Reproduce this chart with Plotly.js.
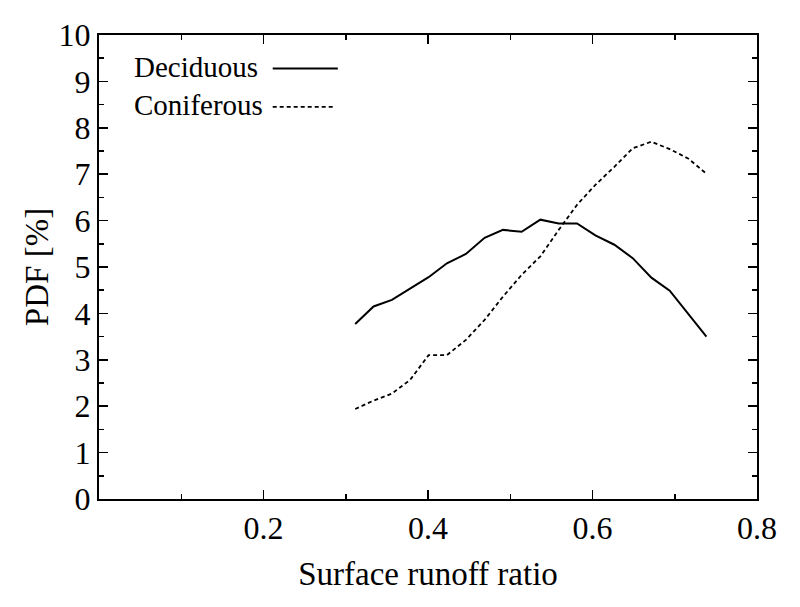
<!DOCTYPE html>
<html>
<head>
<meta charset="utf-8">
<script src="https://cdn.plot.ly/plotly-3.0.1.min.js"></script>
<style>html,body{margin:0;padding:0;background:#fff;}#chart{width:800px;height:607px;}</style>
</head>
<body>
<div id="chart"></div>
<script>
const runoffRatio = [0.3115, 0.3338, 0.3561, 0.3784, 0.4007, 0.4230, 0.4461, 0.4688, 0.4911, 0.5138,
                     0.5366, 0.5589, 0.5812, 0.6035, 0.6266, 0.6489, 0.6716, 0.6939, 0.7162, 0.7385];
const deciduousPdf = [3.77, 4.15, 4.29, 4.53, 4.78, 5.08, 5.28, 5.63, 5.80, 5.76,
                      6.02, 5.94, 5.94, 5.68, 5.48, 5.19, 4.77, 4.49, 3.99, 3.50];
const coniferousPdf = [1.94, 2.12, 2.27, 2.57, 3.10, 3.10, 3.43, 3.86, 4.36, 4.83,
                       5.23, 5.80, 6.34, 6.77, 7.16, 7.56, 7.70, 7.54, 7.34, 7.01];
const seriesNames = ['Deciduous', 'Coniferous'];
const xTickVals = [0.2, 0.4, 0.6, 0.8];
const xTickText = ['0.2', '0.4', '0.6', '0.8'];
const yTickVals = [0, 1, 2, 3, 4, 5, 6, 7, 8, 9, 10];

const FONT = 'Liberation Serif, Times New Roman, serif';

const traces = [
  {x: runoffRatio, y: deciduousPdf, mode: 'lines', name: seriesNames[0],
   line: {color: '#000', width: 2}, showlegend: false},
  {x: runoffRatio, y: coniferousPdf, mode: 'lines', name: seriesNames[1],
   line: {color: '#000', width: 1.8, dash: '4px,3px'}, showlegend: false}
];

const axisCommon = {
  showline: true, linecolor: '#000', linewidth: 2, mirror: 'ticks',
  ticks: 'inside', ticklen: 9, tickwidth: 1.5, tickcolor: '#000',
  showgrid: false, zeroline: false, fixedrange: true,
  tickfont: {family: FONT, size: 32, color: '#000'}
};

const layout = {
  width: 800, height: 607,
  margin: {l: 99, r: 43, t: 35, b: 108},
  paper_bgcolor: '#fff', plot_bgcolor: '#fff',
  font: {family: FONT, color: '#000'},
  xaxis: Object.assign({}, axisCommon, {
    range: [0, 0.8], tickmode: 'array', tickvals: xTickVals, ticktext: xTickText,
    minor: {tickmode: 'array', tickvals: [0.1, 0.3, 0.5, 0.7], ticks: 'inside', ticklen: 5, tickwidth: 1.5, tickcolor: '#000'},
    title: {text: 'Surface runoff ratio', font: {family: FONT, size: 33, color: '#000'}, standoff: 16},
    automargin: false
  }),
  yaxis: Object.assign({}, axisCommon, {
    range: [0, 10], tickmode: 'array', tickvals: yTickVals,
    minor: {tickmode: 'array', tickvals: [0.5,1.5,2.5,3.5,4.5,5.5,6.5,7.5,8.5,9.5], ticks: 'inside', ticklen: 5, tickwidth: 1.5, tickcolor: '#000'},
    title: {text: 'PDF [%]', font: {family: FONT, size: 33, color: '#000'}, standoff: 0},
    automargin: false
  }),
  annotations: [
    {xref: 'paper', yref: 'paper', x: 0.05, y: 0.932, xanchor: 'left', yanchor: 'middle',
     text: seriesNames[0], showarrow: false, font: {family: FONT, size: 29, color: '#000'}},
    {xref: 'paper', yref: 'paper', x: 0.05, y: 0.849, xanchor: 'left', yanchor: 'middle',
     text: seriesNames[1], showarrow: false, font: {family: FONT, size: 29, color: '#000'}}
  ],
  shapes: [
    {type: 'line', xref: 'paper', yref: 'paper', x0: 0.264, x1: 0.363, y0: 0.928, y1: 0.928,
     line: {color: '#000', width: 2}},
    {type: 'line', xref: 'paper', yref: 'paper', x0: 0.264, x1: 0.356, y0: 0.845, y1: 0.845,
     line: {color: '#000', width: 1.8, dash: '4px,3px'}}
  ]
};

Plotly.newPlot('chart', traces, layout, {displayModeBar: false, staticPlot: true});
</script>
</body>
</html>
